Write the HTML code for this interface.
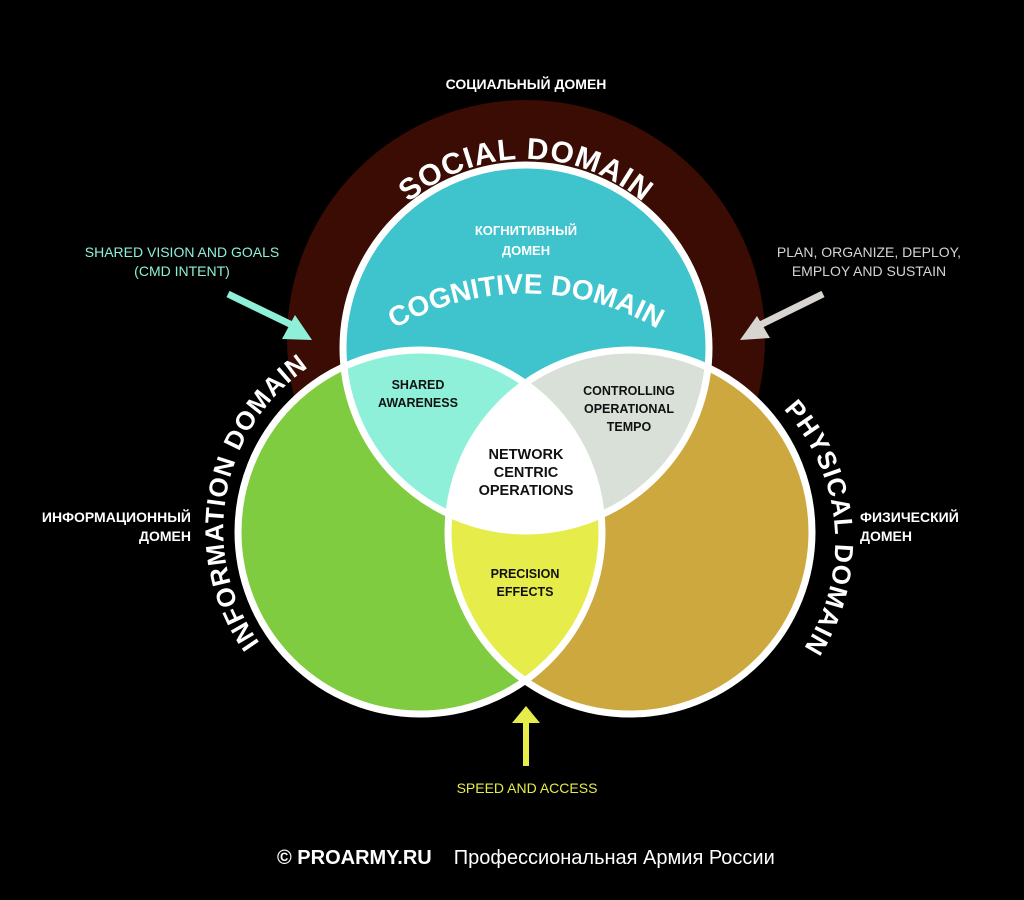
<!DOCTYPE html>
<html><head><meta charset="utf-8"><style>
html,body{margin:0;padding:0;background:#000;}
svg{display:block}
text{font-family:"Liberation Sans","DejaVu Sans",sans-serif;}
</style></head><body>
<svg width="1024" height="900" viewBox="0 0 1024 900" xmlns="http://www.w3.org/2000/svg">
<defs>
<clipPath id="cTop"><circle cx="526" cy="348" r="183"/></clipPath>
<clipPath id="cL"><circle cx="420" cy="532" r="182"/></clipPath>
<clipPath id="cR"><circle cx="630" cy="532" r="182"/></clipPath>
<path id="pSocial" d="M 346 339 A 180 180 0 0 1 706 339"/>
<path id="pCog" d="M 296 430 A 262 262 0 0 1 756 430"/>
<path id="pInfo" d="M 269 655 A 196 196 0 0 1 322 359"/>
<path id="pPhys" d="M 758 386 A 196 196 0 0 1 782 676"/>
</defs>
<rect width="1024" height="900" fill="#000"/>
<circle cx="526" cy="339" r="239" fill="#3a0c04"/>
<text x="526" y="89" fill="#fff" font-size="14" font-weight="bold" text-anchor="middle">СОЦИАЛЬНЫЙ ДОМЕН</text>
<text font-size="30" font-weight="bold" fill="#fff" letter-spacing="1"><textPath href="#pSocial" startOffset="50%" text-anchor="middle">SOCIAL DOMAIN</textPath></text>

<circle cx="420" cy="532" r="182" fill="#80cc40"/>
<circle cx="630" cy="532" r="182" fill="#cda83e"/>
<circle cx="526" cy="348" r="183" fill="#3fc3cc"/>
<g clip-path="url(#cTop)">
 <circle cx="420" cy="532" r="182" fill="#8ef0d8"/>
 <circle cx="630" cy="532" r="182" fill="#d8e0d8"/>
</g>
<g clip-path="url(#cL)"><circle cx="630" cy="532" r="182" fill="#e6ec4a"/></g>
<g clip-path="url(#cTop)"><g clip-path="url(#cL)"><circle cx="630" cy="532" r="182" fill="#fff"/></g></g>
<g fill="none" stroke="#fff" stroke-width="7">
 <circle cx="420" cy="532" r="182"/>
 <circle cx="630" cy="532" r="182"/>
 <circle cx="526" cy="348" r="183"/>
</g>

<text x="526" y="235" fill="#fff" font-size="13" font-weight="bold" text-anchor="middle">КОГНИТИВНЫЙ</text>
<text x="526" y="255" fill="#fff" font-size="13" font-weight="bold" text-anchor="middle">ДОМЕН</text>
<text font-size="28" font-weight="bold" fill="#fff"><textPath href="#pCog" startOffset="50%" text-anchor="middle">COGNITIVE DOMAIN</textPath></text>
<text font-size="26" font-weight="bold" fill="#fff" letter-spacing="1"><textPath href="#pInfo" startOffset="50%" text-anchor="middle">INFORMATION DOMAIN</textPath></text>
<text font-size="26" font-weight="bold" fill="#fff" letter-spacing="1"><textPath href="#pPhys" startOffset="50%" text-anchor="middle">PHYSICAL DOMAIN</textPath></text>

<g font-size="12.5" font-weight="bold" fill="#111" text-anchor="middle">
<text x="418" y="389">SHARED</text><text x="418" y="407">AWARENESS</text>
<text x="629" y="395">CONTROLLING</text><text x="629" y="413">OPERATIONAL</text><text x="629" y="431">TEMPO</text>
<text x="525" y="578">PRECISION</text><text x="525" y="596">EFFECTS</text>
</g>
<g font-size="14.5" font-weight="bold" fill="#111" text-anchor="middle">
<text x="526" y="459">NETWORK</text><text x="526" y="477">CENTRIC</text><text x="526" y="495">OPERATIONS</text>
</g>

<g font-size="14" font-weight="bold" fill="#fff" text-anchor="end">
<text x="191" y="522">ИНФОРМАЦИОННЫЙ</text><text x="191" y="541">ДОМЕН</text>
</g>
<g font-size="14" font-weight="bold" fill="#fff" text-anchor="start">
<text x="860" y="522">ФИЗИЧЕСКИЙ</text><text x="860" y="541">ДОМЕН</text>
</g>

<g font-size="14" fill="#8ef0d8" text-anchor="middle">
<text x="182" y="257">SHARED VISION AND GOALS</text><text x="182" y="276">(CMD INTENT)</text>
</g>
<g font-size="14" fill="#d8d4d0" text-anchor="middle">
<text x="869" y="257">PLAN, ORGANIZE, DEPLOY,</text><text x="869" y="276">EMPLOY AND SUSTAIN</text>
</g>
<text x="527" y="793" font-size="14" fill="#e6ec4a" text-anchor="middle">SPEED AND ACCESS</text>

<line x1="228" y1="294" x2="294" y2="326" stroke="#8ef0d8" stroke-width="7"/>
<polygon points="312,340 282,339 295,315" fill="#8ef0d8"/>
<line x1="823" y1="294" x2="758" y2="326" stroke="#d8d4d0" stroke-width="7"/>
<polygon points="740,340 757,316 770,338" fill="#d8d4d0"/>
<line x1="526" y1="766" x2="526" y2="720" stroke="#e6ec4a" stroke-width="6"/>
<polygon points="526,706 512,723 540,723" fill="#e6ec4a"/>

<text x="277" y="864" font-size="20" fill="#fff"><tspan font-weight="bold">© PROARMY.RU</tspan><tspan dx="22">Профессиональная Армия России</tspan></text>
</svg>
</body></html>
